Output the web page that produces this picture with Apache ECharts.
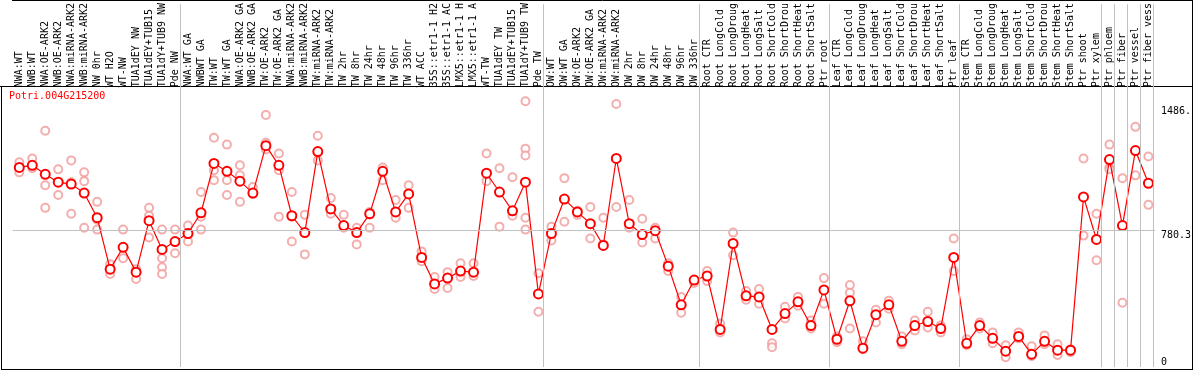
<!DOCTYPE html>
<html><head><meta charset="utf-8">
<script src="https://cdn.jsdelivr.net/npm/echarts@6/dist/echarts.min.js"></script>
<style>html,body{margin:0;padding:0;background:#fff}#c{width:1194px;height:370px}</style>
</head><body><div id="c"></div>
<script>
const geneId = 'Potri.004G215200';
const categories = ['NWA:WT','NWB:WT','NWA:OE-ARK2','NWB:OE-ARK2','NWA:miRNA-ARK2','NWB:miRNA-ARK2','NW 0hr','WT H2O','WT-NW','TUA1dEY NW','TUA1dEY+TUB15','TUA1dY+TUB9 NW','Pde NW',
'NWA:WT GA','NWBWT GA','TW:WT','TW:WT GA','NWA:OE-ARK2 GA','NWB:OE-ARK2 GA','TW:OE-ARK2','TW:OE-ARK2 GA','NWA:miRNA-ARK2','NWB:miRNA-ARK2','TW:miRNA-ARK2','TW:miRNA-ARK2','TW 2hr','TW 8hr','TW 24hr','TW 48hr','TW 96hr','TW 336hr','WT ACC','35S::etr1-1 H2','35S::etr1-1 AC','LMX5::etr1-1 H','LMX5::etr1-1 A','WT-TW','TUA1dEY TW','TUA1dEY+TUB15','TUA1dY+TUB9 TW','Pde TW',
'OW:WT','OW:WT GA','OW:OE-ARK2','OW:OE-ARK2 GA','OW:miRNA-ARK2','OW:miRNA-ARK2','OW 2hr','OW 8hr','OW 24hr','OW 48hr','OW 96hr','OW 336hr',
'Root CTR','Root LongCold','Root LongDroug','Root LongHeat','Root LongSalt','Root ShortCold','Root ShortDrou','Root ShortHeat','Root ShortSalt','Ptr root',
'Leaf CTR','Leaf LongCold','Leaf LongDroug','Leaf LongHeat','Leaf LongSalt','Leaf ShortCold','Leaf ShortDrou','Leaf ShortHeat','Leaf ShortSalt','Ptr leaf',
'Stem CTR','Stem LongCold','Stem LongDroug','Stem LongHeat','Stem LongSalt','Stem ShortCold','Stem ShortDrou','Stem ShortHeat','Stem ShortSalt','Ptr shoot',
'Ptr xylem','Ptr phloem','Ptr fiber','Ptr vessel','Ptr fiber vess'];
const means = [1136,1148,1097,1052,1041,990,850,557,681,540,833,669,714,
760,878,1159,1114,1058,990,1260,1148,861,765,1226,900,805,765,872,1114,883,985,624,473,506,546,540,1103,996,889,1052,416,
760,956,883,816,692,1187,816,754,776,574,354,495,
518,214,703,405,399,214,304,371,236,439,
158,377,107,298,354,146,236,259,219,624,
135,236,163,90,174,73,146,96,96,968,
726,1181,805,1232,1046];
const replicates = [
[1165,1108],[1187,1131],[1345,1035,906],[1125,979],[1176,1052,872],[1108,1058,793],[940,838,782],[585,529],[782,619],[557,501],[906,861,737],[782,619,568,529],[782,647],
[805,714],[996,855,782],[1305,1120,1063],[1266,1063,979],[1148,1091,940],[1024,985],[1435,1277,1238],[1215,1120,855],[996,855,714],[866,641],[1316,1176],[962,872],[866,793],[793,698],[883,793],[1136,1063],[951,850],[1035,906],[658,602],[512,444],[540,450],[591,534,512],[591,518],[1215,1058],[1131,799],[1080,889,861],[1513,1243,1204,850,782],[534,315],
[799,720],[1075,827],[889,866],[911,731],[850,698],[1497,911],[951,793],[844,709],[793,731],[591,546],[399,309],[495,478],
[546,489],[248,197],[765,636],[433,383],[444,360],[135,113],[343,276],[399,349],[264,219],[506,360],
[174,141],[467,422,219],[146,101],[326,253],[377,332],[174,129],[264,208],[315,225],[236,197],[731,546],
[158,124],[253,219],[197,135],[124,56],[197,163],[118,62],[180,129],[129,68],[101,84],[1187,748],
[872,608],[1266,1136,1125],[1075,366],[1367,1091],[1198,923]];
const groupLastIndex = [-1, 12, 40, 52, 62, 72, 83, 84, 85, 86, 87];
const yTickValues = [0, 780.3, 1486];
const yTickLabels = ['0', '780.3', '1486.'];
const refLineValue = 780.3;

const FONT = 'DejaVu Sans Mono';
const repData = [];
replicates.forEach((arr, i) => arr.forEach(v => repData.push([i, v])));
const chart = echarts.init(document.getElementById('c'), null, {renderer: 'canvas'});
const yMax = 2064.7;
const labelFor = v => yTickLabels[yTickValues.indexOf(v)];
chart.setOption({
  animation: false,
  backgroundColor: '#fff',
  title: {text: geneId, left: 9, top: 91, padding: 0,
    textStyle: {color: '#ff0000', fontFamily: FONT, fontSize: 10, fontWeight: 'normal'}},
  grid: {left: 12.8, right: 37.2, top: 0, bottom: 3, containLabel: false},
  xAxis: [
    {type: 'category', data: categories, position: 'top', offset: -86, boundaryGap: true,
      axisLine: {show: false}, axisTick: {show: false}, splitLine: {show: false},
      axisLabel: {rotate: 90, interval: 0, margin: 3, color: '#000', fontFamily: FONT, fontSize: 10}},
    {type: 'value', min: -0.5, max: 87.5, show: false}
  ],
  yAxis: [
    {type: 'value', position: 'right', min: 0, max: yMax,
      axisLine: {show: false}, axisTick: {show: false}, splitLine: {show: false},
      axisLabel: {customValues: yTickValues.slice(1), verticalAlign: 'top', align: 'left', margin: 6,
        color: '#000', fontFamily: FONT, fontSize: 10, formatter: labelFor}},
    {type: 'value', position: 'right', min: 0, max: yMax,
      axisLine: {show: false}, axisTick: {show: false}, splitLine: {show: false},
      axisLabel: {customValues: yTickValues.slice(0, 1), verticalAlign: 'bottom', align: 'left', margin: 6,
        color: '#000', fontFamily: FONT, fontSize: 10, formatter: labelFor}}
  ],
  graphic: [
    {type: 'line', shape: {x1: 12, y1: 0.5, x2: 1193, y2: 0.5}, style: {stroke: '#000', lineWidth: 1}},
    {type: 'line', shape: {x1: 0, y1: 86.5, x2: 1193, y2: 86.5}, style: {stroke: '#000', lineWidth: 1}},
    {type: 'line', shape: {x1: 1.5, y1: 86, x2: 1.5, y2: 370}, style: {stroke: '#000', lineWidth: 1}},
    {type: 'line', shape: {x1: 1, y1: 369.5, x2: 1193, y2: 369.5}, style: {stroke: '#000', lineWidth: 1}},
    {type: 'line', shape: {x1: 1192.5, y1: 0, x2: 1192.5, y2: 370}, style: {stroke: '#000', lineWidth: 1}}
  ],
  series: [
    {type: 'line', xAxisIndex: 1, yAxisIndex: 0, data: [], silent: true,
      markLine: {symbol: 'none', silent: true, label: {show: false},
        lineStyle: {color: '#c0c0c0', width: 1, type: 'solid'},
        data: groupLastIndex.map(i => ({xAxis: i + 0.4}))}},
    {type: 'scatter', xAxisIndex: 0, yAxisIndex: 0, data: repData, clip: false,
      symbol: 'emptyCircle', symbolSize: 8,
      itemStyle: {color: '#f09a9a', borderColor: '#f09a9a', borderWidth: 1.5}, z: 2},
    {type: 'line', xAxisIndex: 0, yAxisIndex: 0, data: means, clip: false,
      symbol: 'emptyCircle', symbolSize: 9, showAllSymbol: true,
      lineStyle: {color: '#ff0000', width: 1.2},
      itemStyle: {color: '#ff0000', borderColor: '#ff0000', borderWidth: 1.8}, z: 3,
      markLine: {symbol: 'none', silent: true, label: {show: false},
        lineStyle: {color: '#c0c0c0', width: 1, type: 'solid'},
        data: [{yAxis: refLineValue}]}}
  ]
});
</script></body></html>
